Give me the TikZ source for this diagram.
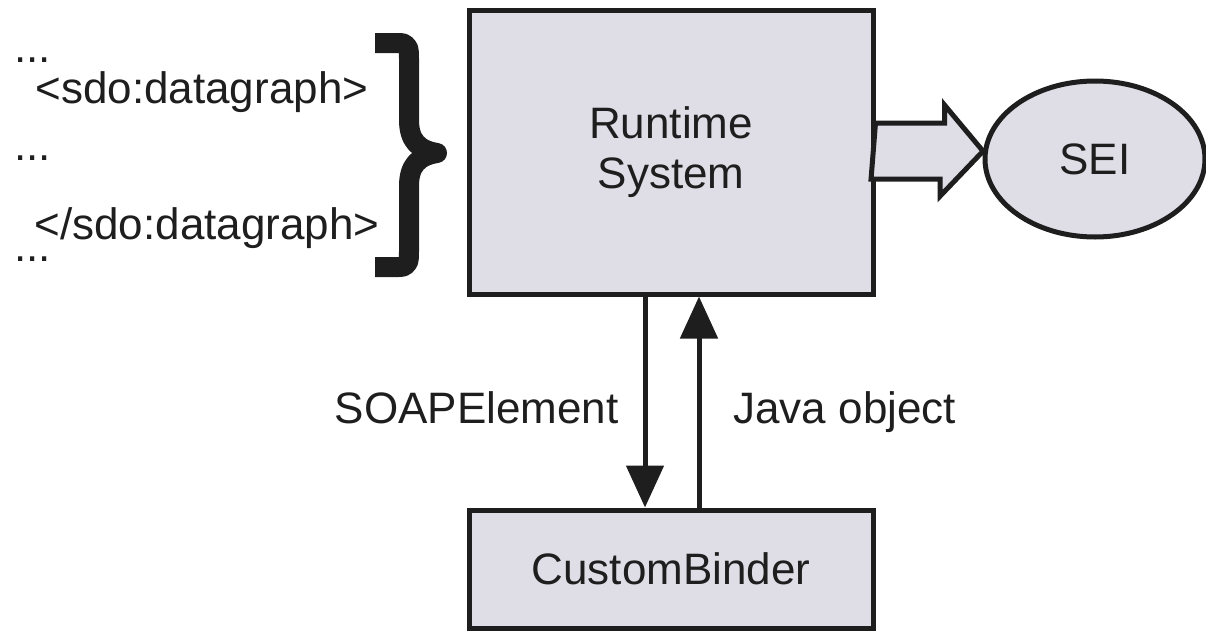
\documentclass[tikz,border=0pt]{standalone}
\usepackage{fontspec}
\setmainfont{Liberation Sans}
\usetikzlibrary{shapes.geometric,arrows.meta}

\definecolor{boxfill}{RGB}{223,221,230}
\definecolor{ink}{RGB}{30,30,30}
\newcommand{\bigfont}{\fontsize{22pt}{25pt}\selectfont}

\tikzset{
  sysbox/.style={draw=ink,fill=boxfill,minimum width=202pt,inner sep=0pt,align=center,font=\bigfont,text=ink},
  seinode/.style={ellipse,draw=ink,fill=boxfill,minimum width=110pt,minimum height=78pt,inner sep=0pt,font=\bigfont,text=ink},
  xmltext/.style={anchor=base west,inner sep=0pt,font=\bigfont,text=ink},
  lbl/.style={inner sep=0pt,font=\bigfont,text=ink,text height=16pt,text depth=0pt,yshift=-2.5pt},
  callarrow/.style={draw=ink,-{Triangle[length=21pt,width=18.5pt]}},
  fatarrow/.style={draw=ink,fill=boxfill,line join=miter},
  bigbrace/.style={draw=ink,line width=10pt,line join=round}
}

\begin{document}
\begin{tikzpicture}[x=0.5pt,y=-0.5pt,node distance=212pt,line width=2.5pt]
\useasboundingbox (0,0) rectangle (1206,632);

\node[sysbox,minimum height=142pt](rt) at (671,152){Runtime\\System};
\node[sysbox,minimum height=59pt](cb)[below of=rt,node distance=208.5pt]{CustomBinder};
\node[seinode](sei)[right of=rt,yshift=-3.5pt]{SEI};

\node[xmltext](d1) at (12,62){...};
\node[xmltext](open) at (33,103){<sdo:datagraph>};
\node[xmltext](d2) at (12,160){...};
\node[xmltext](close) at (32,239){</sdo:datagraph>};
\node[xmltext](d3) at (12,261){...};

\coordinate (bt) at (375,43);
\coordinate (btip) at (437,153);
\coordinate (bb) at (375,267);
\draw[bigbrace] (bt) -- (399,43) .. controls (409,43) and (409,49) .. (409,59) -- (409,120)
	.. controls (409,140) and (418,150) .. (btip) .. controls (418,156) and (409,166) .. (409,186)
	-- (409,251) .. controls (409,261) and (409,267) .. (399,267) -- (bb);

\draw[fatarrow] (rt.east) ++(0,-29) -- ++(69,0) -- ++(0,-18) -- (sei.176)
	-- ++(-43,45) -- ++(0,-17) -- ++(-69,0) -- cycle;

\path([xshift=-13pt]rt.south) edge[callarrow] node[lbl,left=12pt]{SOAPElement} ([xshift=-13pt]cb.north)
	([xshift=14pt]cb.north) edge[callarrow] node[lbl,right=16pt]{Java object} ([xshift=14pt]rt.south);

\end{tikzpicture}
\end{document}
